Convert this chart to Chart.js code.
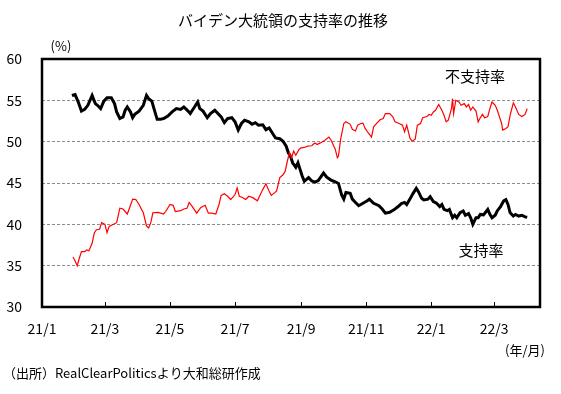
<!DOCTYPE html>
<html>
<head>
    <title>バイデン大統領の支持率の推移</title>
    <script src="https://cdn.jsdelivr.net/npm/chart.js@4"></script>
    <style>
        body { margin: 0; background: #fff; }
        #chart { display: block; }
    </style>
</head>
<body>
    <canvas id="chart" width="561" height="394"></canvas>
    <script>
        // days counted from 2021-01-01
        var approvalDays = [28, 31, 34, 37, 40, 43, 47, 50, 52, 55, 58, 61, 65, 68, 70, 73, 76, 78, 80, 83, 85, 87, 91, 95, 98, 100, 103, 105, 108, 111, 114, 118, 122, 126, 130, 133, 137, 139, 143, 146, 148, 151, 155, 158, 162, 165, 168, 171, 174, 178, 181, 184, 187, 190, 194, 197, 200, 203, 207, 210, 213, 216, 219, 223, 226, 229, 231, 233, 235, 238, 240, 242, 244, 246, 250, 253, 256, 259, 264, 267, 271, 275, 278, 281, 283, 285, 289, 291, 294, 297, 301, 305, 307, 311, 316, 319, 322, 326, 330, 334, 337, 340, 342, 345, 348, 351, 353, 356, 358, 362, 364, 367, 370, 373, 375, 377, 380, 382, 385, 387, 389, 392, 395, 397, 400, 402, 404, 407, 409, 411, 414, 418, 420, 422, 425, 427, 430, 433, 435, 437, 439, 442, 444, 447, 450, 453, 455];
        var approval = [55.6, 55.7, 54.8, 53.7, 53.9, 54.4, 55.6, 54.6, 54.4, 54.0, 54.9, 55.3, 55.3, 54.6, 53.6, 52.8, 53.0, 53.8, 54.2, 53.6, 52.9, 53.3, 53.7, 54.4, 55.6, 55.2, 54.9, 54.0, 52.7, 52.7, 52.8, 53.1, 53.6, 54.0, 53.9, 54.2, 53.7, 53.4, 54.2, 54.8, 54.0, 53.7, 52.9, 53.4, 53.8, 53.4, 53.0, 52.3, 52.8, 52.9, 52.4, 51.4, 52.2, 52.6, 52.4, 52.1, 52.3, 52.0, 52.05, 51.45, 51.65, 51.05, 50.45, 50.35, 50.05, 49.45, 48.65, 48.25, 47.45, 46.9, 47.45, 46.65, 45.85, 45.2, 45.65, 45.25, 45.1, 45.3, 46.2, 45.7, 45.35, 45.15, 44.95, 43.55, 43.05, 43.85, 43.75, 43.05, 42.65, 42.25, 42.55, 42.85, 43.05, 42.55, 42.25, 41.85, 41.35, 41.45, 41.75, 42.15, 42.5, 42.65, 42.4, 43.05, 43.75, 44.35, 43.95, 43.15, 42.95, 43.05, 43.35, 42.75, 42.55, 42.15, 42.4, 41.8, 41.65, 41.8, 40.8, 41.1, 40.8, 41.4, 41.6, 41.1, 41.3, 40.8, 40.0, 40.8, 40.8, 41.2, 41.15, 41.8, 41.2, 40.8, 41.1, 41.65, 42.15, 42.85, 43.0, 42.4, 41.4, 41.0, 41.2, 41.0, 41.1, 40.9, 40.85];

        var disapprovalDays = [29, 31, 33, 35, 37, 40, 42, 44, 47, 49, 51, 54, 56, 59, 61, 63, 67, 70, 73, 76, 80, 82, 85, 88, 91, 95, 98, 100, 102, 104, 109, 114, 116, 120, 123, 125, 130, 133, 136, 138, 141, 145, 149, 153, 156, 159, 163, 166, 168, 171, 174, 177, 181, 183, 185, 188, 191, 194, 198, 202, 204, 207, 210, 213, 215, 218, 220, 223, 226, 228, 230, 232, 234, 236, 238, 241, 243, 246, 249, 253, 254, 256, 258, 261, 265, 269, 271, 274, 275, 277, 278, 280, 283, 285, 289, 291, 294, 296, 299, 301, 303, 306, 309, 311, 314, 317, 320, 322, 326, 329, 331, 335, 338, 340, 342, 345, 347, 350, 352, 355, 357, 361, 363, 365, 367, 369, 372, 375, 377, 379, 381, 384, 385, 386, 388, 391, 393, 396, 398, 400, 402, 404, 407, 409, 411, 413, 415, 418, 420, 422, 425, 427, 429, 431, 432, 435, 437, 439, 442, 444, 447, 450, 453, 455];
        var disapproval = [36.05, 35.6, 35.0, 35.9, 36.7, 36.7, 36.9, 36.8, 37.7, 38.95, 39.35, 39.4, 40.2, 40.0, 39.0, 39.75, 40.0, 40.2, 41.95, 41.85, 41.25, 41.95, 43.05, 43.0, 42.4, 41.4, 39.8, 39.55, 40.2, 41.4, 41.45, 41.25, 41.55, 42.4, 42.3, 41.55, 41.65, 41.85, 41.95, 42.65, 42.15, 41.35, 42.05, 42.3, 41.35, 41.35, 41.25, 42.4, 43.5, 43.7, 43.4, 43.0, 43.6, 44.4, 43.4, 43.25, 43.0, 43.4, 43.2, 42.85, 43.4, 44.2, 44.9, 44.0, 43.5, 43.8, 44.05, 45.65, 46.0, 46.4, 47.6, 48.65, 48.05, 48.85, 48.35, 49.05, 49.25, 49.3, 49.45, 49.5, 49.65, 49.85, 49.65, 49.85, 50.15, 50.55, 50.2, 49.35, 49.1, 48.05, 48.25, 50.25, 52.2, 52.4, 52.1, 51.5, 51.3, 52.0, 52.2, 52.25, 51.6, 51.05, 50.55, 51.8, 52.25, 52.65, 52.8, 53.4, 53.4, 53.0, 52.4, 52.2, 52.0, 51.2, 52.0, 50.45, 50.05, 50.3, 52.0, 52.2, 52.9, 53.05, 53.3, 53.2, 53.6, 53.8, 54.5, 53.8, 53.2, 52.4, 52.6, 54.0, 55.2, 53.4, 55.0, 54.8, 54.4, 54.6, 54.2, 54.5, 53.8, 54.2, 53.7, 52.4, 52.9, 53.3, 52.9, 53.05, 54.0, 54.8, 54.4, 53.8, 53.0, 52.2, 51.4, 51.6, 51.8, 53.2, 54.7, 54.2, 53.3, 53.05, 53.3, 54.0];

        var tickDays = [0, 59, 120, 181, 243, 304, 365, 424];
        var tickLabels = ['21/1', '21/3', '21/5', '21/7', '21/9', '21/11', '22/1', '22/3'];

        function toPoints(days, values) {
            var pts = [];
            for (var i = 0; i < days.length; i++) {
                pts.push({ x: days[i], y: values[i] });
            }
            return pts;
        }

        var jpFont = "'Noto Sans CJK JP', 'Noto Sans', sans-serif";

        var extras = {
            id: 'extras',
            afterDraw: function (chart) {
                var c = chart.ctx;
                var a = chart.chartArea;
                var xs = chart.scales.x;
                c.save();
                // inward tick marks on the bottom axis
                c.strokeStyle = '#000';
                c.lineWidth = 1;
                for (var i = 1; i < tickDays.length; i++) {
                    var px = Math.round(xs.getPixelForValue(tickDays[i])) + 0.5;
                    c.beginPath();
                    c.moveTo(px, a.bottom);
                    c.lineTo(px, a.bottom - 5);
                    c.stroke();
                }
                // frame
                c.lineWidth = 2.5;
                c.strokeRect(a.left, a.top, a.right - a.left, a.bottom - a.top);

                c.fillStyle = '#000';
                c.textBaseline = 'middle';
                c.textAlign = 'center';
                c.font = '15px ' + jpFont;
                c.fillText('バイデン大統領の支持率の推移', 283, 20);
                c.fillText('不支持率', 475, 76);
                c.fillText('支持率', 481, 250);
                c.font = '13px ' + jpFont;
                c.fillText('(%)', 61, 46);
                c.textAlign = 'right';
                c.fillText('(年/月)', 545, 350);
                c.textAlign = 'left';
                c.fillText('（出所）RealClearPoliticsより大和総研作成', 3, 373);
                c.restore();
            }
        };

        var ctx = document.getElementById('chart').getContext('2d');

        var chart = new Chart(ctx, {
            type: 'line',
            data: {
                datasets: [{
                    label: '不支持率',
                    data: toPoints(disapprovalDays, disapproval),
                    borderColor: '#ff0000',
                    borderWidth: 1.2,
                    pointRadius: 0,
                    tension: 0
                }, {
                    label: '支持率',
                    data: toPoints(approvalDays, approval),
                    borderColor: '#000000',
                    borderWidth: 3,
                    pointRadius: 0,
                    tension: 0
                }]
            },
            options: {
                responsive: false,
                animation: false,
                layout: { padding: { top: 59, right: 21, left: 0, bottom: 0 } },
                plugins: {
                    legend: { display: false },
                    title: { display: false },
                    tooltip: { enabled: false }
                },
                scales: {
                    x: {
                        type: 'linear',
                        min: 0,
                        max: 467,
                        afterBuildTicks: function (axis) {
                            axis.ticks = tickDays.map(function (d) { return { value: d }; });
                        },
                        afterFit: function (axis) { axis.height = 87; },
                        ticks: {
                            autoSkip: false,
                            maxRotation: 0,
                            padding: 13,
                            color: '#000',
                            font: { family: jpFont, size: 14 },
                            callback: function (value) {
                                var i = tickDays.indexOf(value);
                                return i >= 0 ? tickLabels[i] : '';
                            }
                        },
                        grid: { display: false, drawTicks: false },
                        border: { display: false }
                    },
                    y: {
                        min: 30,
                        max: 60,
                        afterFit: function (axis) { axis.width = 42; },
                        ticks: {
                            stepSize: 5,
                            padding: 20,
                            color: '#000',
                            font: { family: jpFont, size: 14 }
                        },
                        grid: {
                            drawTicks: false,
                            color: function (c) {
                                return (c.tick.value === 30 || c.tick.value === 60) ? 'rgba(0,0,0,0)' : '#8c8c8c';
                            },
                            lineWidth: 1
                        },
                        border: { display: false, dash: [3, 2] }
                    }
                }
            },
            plugins: [extras]
        });
    </script>
</body>
</html>
